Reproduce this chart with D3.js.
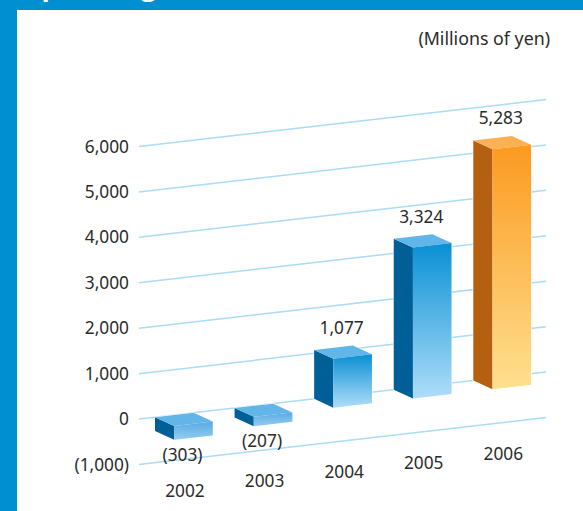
<!DOCTYPE html>
<html>
<head>
<meta charset="utf-8">
<script src="https://cdn.jsdelivr.net/npm/d3@7/dist/d3.min.js"></script>
<style>
  html, body { margin: 0; padding: 0; background: #fff; }
  svg { display: block; }
  text { font-family: "Noto Sans", "Open Sans", sans-serif; fill: #2b2b2b; }
</style>
</head>
<body>
<svg id="chart" width="583" height="511"></svg>
<script>
// Operating income by fiscal year, millions of yen
const years = ["2002", "2003", "2004", "2005", "2006"];
const income = [-303, -207, 1077, 3324, 5283];
const incomeLabels = ["(303)", "(207)", "1,077", "3,324", "5,283"];
const gridTicks = [-1000, 0, 1000, 2000, 3000, 4000, 5000, 6000];

const svg = d3.select("#chart");
const defs = svg.append("defs");

// Frame
const frameBlue = "#0090d2";
svg.append("rect").attr("width", 583).attr("height", 10).attr("fill", frameBlue);
svg.append("rect").attr("width", 17).attr("height", 511).attr("fill", frameBlue);
svg.append("text").attr("x", 20).attr("y", -4)
  .style("fill", "#fff").style("font-family", "'Open Sans'")
  .style("font-weight", 700).style("font-size", "27px").text("Operating Income");

svg.append("text").attr("x", 550).attr("y", 45).attr("text-anchor", "end")
  .style("font-size", "17.8px").text("(Millions of yen)");

// The floor of the chart rises to the right, so every position is a
// value scale reading plus a shear taken from the horizontal position.
const y = d3.scaleLinear().domain([-1000, 6000]).range([464.5, 146.5]);
const gridLeft = 139, gridRight = 546;
const shear = d3.scaleLinear().domain([gridLeft, gridRight]).range([0, -47]);
const px = (xPos, value) => y(value) + shear(xPos);

// Gridlines
svg.append("g").selectAll("line").data(gridTicks).join("line")
  .attr("x1", gridLeft).attr("x2", gridRight)
  .attr("y1", d => px(gridLeft, d)).attr("y2", d => px(gridRight, d))
  .attr("stroke", "#a9dcf6").attr("stroke-width", 1.5);

// Value axis: tick labels only
const yAxis = d3.axisLeft(y).tickValues(gridTicks).tickSize(0).tickPadding(0)
  .tickFormat(d => d < 0 ? `(${d3.format(",")(-d)})` : d3.format(",")(d));
const axisG = svg.append("g").attr("transform", "translate(129,0)").call(yAxis);
axisG.select(".domain").remove();
axisG.selectAll("text").style("font-size", "17.3px")
  .style("font-family", "'Noto Sans'").style("fill", "#2b2b2b");

// Bars: x gives the left edge of the rear corner of each block
const x = d3.scalePoint().domain(years).range([155, 473.3]);
const depthX = 19.2, depthY = 8.8, frontW = 38.6;

const palettes = {
  blue: { side: "#005f97", top: "#62b5e8", stops: ["#0a90d4", "#aeddf9"] },
  orange: { side: "#b55f10", top: "#fcb054", stops: ["#fb9a20", "#ffe08f"] }
};

function gradient(id, stops) {
  const g = defs.append("linearGradient").attr("id", id)
    .attr("x1", 0).attr("x2", 0).attr("y1", 0).attr("y2", 1);
  g.append("stop").attr("offset", 0).attr("stop-color", stops[0]);
  g.append("stop").attr("offset", 1).attr("stop-color", stops[1]);
}
gradient("frontBlue", palettes.blue.stops);
gradient("frontOrange", palettes.orange.stops);
gradient("frontShallow", ["#5aaae3", "#94ccf1"]);

const poly = pts => pts.map(p => p.join(",")).join(" ");

const bars = svg.append("g").selectAll("g").data(years).join("g");
bars.each(function (year, i) {
  const g = d3.select(this);
  const v = income[i];
  const x0 = x(year);
  const backTop = px(x0, Math.max(v, 0));
  const backBot = px(x0, Math.min(v, 0));
  const rise = 4.4;
  const pal = i === 4 ? palettes.orange : palettes.blue;
  const fx = x0 + depthX;
  const rx = fx + frontW;
  const fill = i === 4 ? "url(#frontOrange)" : v < 0 ? "url(#frontShallow)" : "url(#frontBlue)";

  // thin pale halo that separates a block from the gridlines behind it
  g.append("polygon")
    .attr("points", poly([[x0, backTop], [x0 + frontW, backTop - rise], [rx, backTop + depthY - rise],
      [rx, backBot + depthY - rise], [fx, backBot + depthY], [x0, backBot]]))
    .attr("fill", "#fff").attr("stroke", "#fff").attr("stroke-width", 1.5).attr("stroke-opacity", 0.75);

  g.append("polygon").attr("fill", pal.side)
    .attr("points", poly([[x0, backTop], [fx, backTop + depthY], [fx, backBot + depthY], [x0, backBot]]));
  g.append("polygon").attr("fill", pal.top)
    .attr("points", poly([[x0, backTop], [x0 + frontW, backTop - rise], [rx, backTop + depthY - rise], [fx, backTop + depthY]]));
  g.append("polygon").attr("fill", fill)
    .attr("points", poly([[fx, backTop + depthY], [rx, backTop + depthY - rise], [rx, backBot + depthY - rise], [fx, backBot + depthY]]));
});

// Value labels sit above positive blocks and below negative ones
svg.append("g").selectAll("text").data(years).join("text")
  .attr("text-anchor", "middle").style("font-size", "17.3px")
  .attr("x", d => x(d) + 27.5)
  .attr("y", (d, i) => {
    const v = income[i];
    return v < 0 ? px(x(d), v) + 30 : px(x(d), v) - 16;
  })
  .text((d, i) => incomeLabels[i]);

// Year labels follow the same rise as the floor
svg.append("g").selectAll("text").data(years).join("text")
  .attr("text-anchor", "middle").style("font-size", "17.3px")
  .attr("x", d => x(d) + 30)
  .attr("y", d => px(x(d), -1000) + 34)
  .text(d => d);
</script>
</body>
</html>
